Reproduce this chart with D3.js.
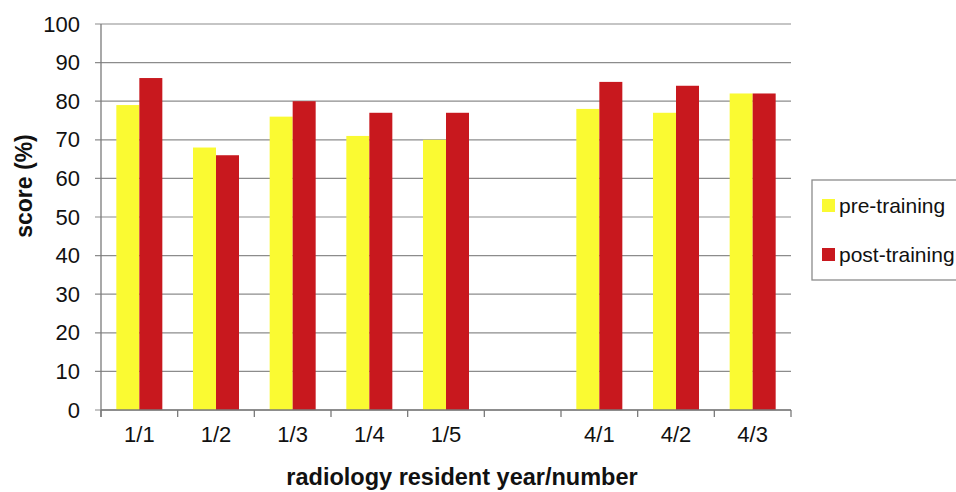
<!DOCTYPE html>
<html>
<head>
<meta charset="utf-8">
<script src="https://cdn.jsdelivr.net/npm/d3@7"></script>
<style>
  body { margin: 0; background: #fff; }
  text { font-family: "Liberation Sans", Arial, sans-serif; fill: #111; }
</style>
</head>
<body>
<script>
// Size of the page
var width = 956;
var height = 492;

// Data
var categories = ["1/1", "1/2", "1/3", "1/4", "1/5", " ", "4/1", "4/2", "4/3"];
var seriesNames = ["pre-training", "post-training"];
var preTraining = [79, 68, 76, 71, 70, null, 78, 77, 82];
var postTraining = [86, 66, 80, 77, 77, null, 85, 84, 82];
var seriesColors = ["#fafa32", "#c8181e"];
var yTicks = [0, 10, 20, 30, 40, 50, 60, 70, 80, 90, 100];

// Plot area
var plotLeft = 101, plotRight = 791, plotTop = 24, plotBottom = 410;

var svg = d3.select("body").append("svg")
  .attr("width", width)
  .attr("height", height);

var x0 = d3.scaleBand()
  .domain(categories)
  .range([plotLeft, plotRight])
  .padding(0);

var x1 = d3.scaleBand()
  .domain(seriesNames)
  .range([x0.bandwidth() * 0.2, x0.bandwidth() * 0.8])
  .padding(0);

var y = d3.scaleLinear()
  .domain([0, 100])
  .range([plotBottom, plotTop]);

// gridlines, reaching 6px left of the axis line as tick marks
svg.append("g").selectAll("line")
  .data(yTicks)
  .enter().append("line")
  .attr("x1", plotLeft - 6)
  .attr("x2", plotRight)
  .attr("y1", function (d) { return y(d); })
  .attr("y2", function (d) { return y(d); })
  .attr("stroke", "#8c8c8c")
  .attr("stroke-width", 1.2);

// y tick labels
svg.append("g")
  .attr("transform", "translate(" + plotLeft + ",0)")
  .call(d3.axisLeft(y).tickValues(yTicks).tickSize(0).tickPadding(21))
  .call(function (g) { g.select(".domain").remove(); })
  .selectAll("text")
  .attr("font-size", "22px")
  .attr("font-family", "Liberation Sans, Arial, sans-serif")
  .attr("fill", "#111");

// Bars
var rows = categories.map(function (c, i) {
  return { cat: c, values: [preTraining[i], postTraining[i]] };
});

var groups = svg.append("g").selectAll("g")
  .data(rows)
  .enter().append("g")
  .attr("transform", function (d) { return "translate(" + x0(d.cat) + ",0)"; });

groups.selectAll("rect")
  .data(function (d) {
    return d.values.map(function (v, j) { return { key: seriesNames[j], value: v, idx: j }; })
      .filter(function (e) { return e.value != null; });
  })
  .enter().append("rect")
  .attr("x", function (d) { return x1(d.key); })
  .attr("width", x1.bandwidth())
  .attr("y", function (d) { return y(d.value); })
  .attr("height", function (d) { return y(0) - y(d.value); })
  .attr("fill", function (d) { return seriesColors[d.idx]; });

// Axis lines
svg.append("line")
  .attr("x1", plotLeft).attr("x2", plotLeft)
  .attr("y1", plotTop).attr("y2", plotBottom + 7)
  .attr("stroke", "#7a7a7a").attr("stroke-width", 1.3);

svg.append("line")
  .attr("x1", plotLeft).attr("x2", plotRight)
  .attr("y1", plotBottom).attr("y2", plotBottom)
  .attr("stroke", "#7a7a7a").attr("stroke-width", 1.3);

// x tick marks at band edges
var edges = categories.map(function (c) { return x0(c); }).concat([plotRight]);
svg.append("g").selectAll("line")
  .data(edges)
  .enter().append("line")
  .attr("x1", function (d) { return d; })
  .attr("x2", function (d) { return d; })
  .attr("y1", plotBottom)
  .attr("y2", plotBottom + 7)
  .attr("stroke", "#7a7a7a")
  .attr("stroke-width", 1.3);

// x labels
svg.append("g")
  .attr("transform", "translate(0," + plotBottom + ")")
  .call(d3.axisBottom(x0).tickSize(0).tickPadding(16))
  .call(function (g) { g.select(".domain").remove(); })
  .selectAll("text")
  .attr("font-size", "22px")
  .attr("font-family", "Liberation Sans, Arial, sans-serif")
  .attr("fill", "#111");

// Axis titles
svg.append("text")
  .attr("transform", "translate(32,186) rotate(-90)")
  .attr("text-anchor", "middle")
  .attr("font-size", "23px")
  .attr("font-weight", "bold")
  .text("score (%)");

svg.append("text")
  .attr("x", 462)
  .attr("y", 485)
  .attr("text-anchor", "middle")
  .attr("font-size", "23.5px")
  .attr("font-weight", "bold")
  .text("radiology resident year/number");

// Legend
var legend = svg.append("g");
legend.append("rect")
  .attr("x", 812).attr("y", 180)
  .attr("width", 160).attr("height", 100)
  .attr("fill", "#fff")
  .attr("stroke", "#8c8c8c")
  .attr("stroke-width", 1.3);

var legendItems = legend.selectAll("g.item")
  .data(seriesNames)
  .enter().append("g")
  .attr("class", "item")
  .attr("transform", function (d, i) { return "translate(822," + (199 + i * 49) + ")"; });

legendItems.append("rect")
  .attr("width", 13).attr("height", 13)
  .attr("fill", function (d, i) { return seriesColors[i]; });

legendItems.append("text")
  .attr("x", 17)
  .attr("y", 14)
  .attr("font-size", "21px")
  .text(function (d) { return d; });
</script>
</body>
</html>
